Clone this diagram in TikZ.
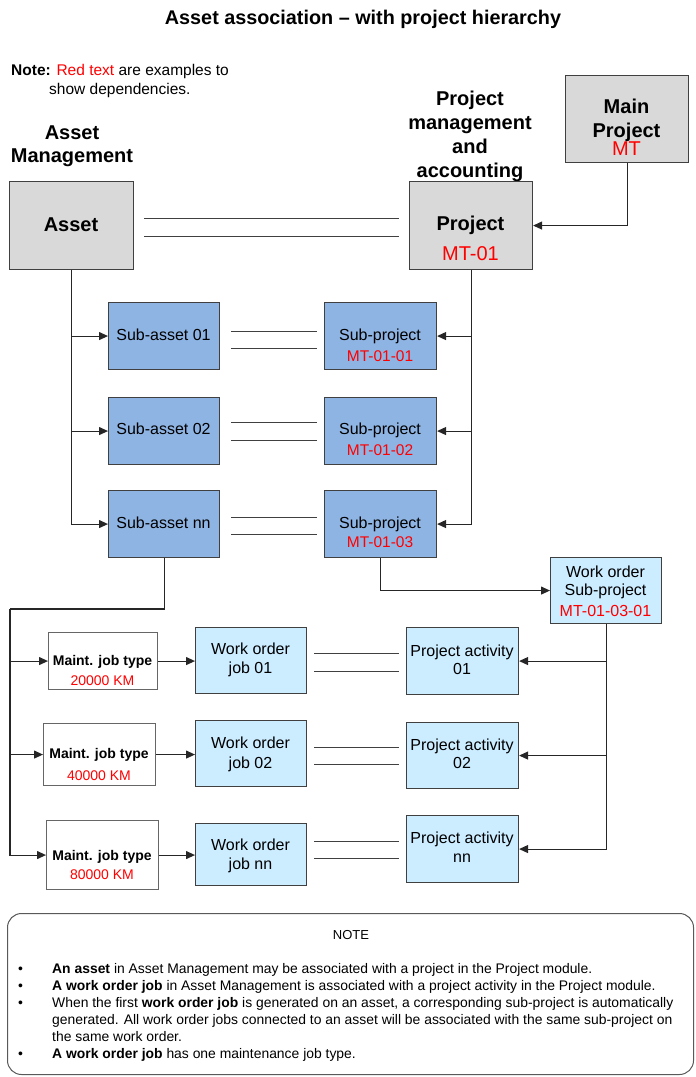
\documentclass[tikz,border=0pt]{standalone}
\usepackage{fontspec}
\setmainfont{Liberation Sans}
\usetikzlibrary{arrows.meta,calc}
\definecolor{boxgray}{HTML}{D9D9D9}
\definecolor{boxblue}{HTML}{8EB4E3}
\definecolor{boxlight}{HTML}{CCECFF}
\definecolor{redtxt}{HTML}{FF0000}
\definecolor{edgec}{HTML}{404040}
\begin{document}
\begin{tikzpicture}[x=1pt,y=-1pt,
  box/.style={draw=edgec,line width=1.1pt,inner sep=0pt,anchor=north west},
  graybox/.style={box,fill=boxgray},
  bluebox/.style={box,fill=boxblue},
  lightbox/.style={box,fill=boxlight},
  whitebox/.style={box,draw=black!60,fill=white},
  txt/.style={inner sep=0pt,anchor=base},
  ftitle/.style={txt,yshift=-7.1pt,font=\fontsize{19.8}{23}\selectfont\bfseries},
  fhead/.style={txt,yshift=-7.2pt,font=\fontsize{20}{24}\selectfont\bfseries},
  fbig/.style={txt,yshift=-7.2pt,font=\fontsize{20}{24}\selectfont},
  fmid/.style={txt,yshift=-5.8pt,font=\fontsize{16}{19}\selectfont},
  fsub/.style={txt,yshift=-5.6pt,font=\fontsize{15.5}{19}\selectfont},
  fsmallb/.style={txt,yshift=-5pt,font=\fontsize{14}{17}\selectfont\bfseries},
  fsmall/.style={txt,yshift=-5pt,font=\fontsize{14}{17}\selectfont},
  fintro/.style={inner sep=0pt,anchor=base west,yshift=-5.6pt,font=\fontsize{15.5}{19}\selectfont},
  fnote/.style={inner sep=0pt,anchor=base west,yshift=-5pt,font=\fontsize{13.9}{17}\selectfont},
  red/.style={text=redtxt},
  conn/.style={draw=black!85,line width=1.1pt,-{Triangle[length=9pt,width=8pt]}},
  plain/.style={draw=black!85,line width=1.1pt},
  assoc/.style={draw=black!75,line width=1.1pt}
]
\useasboundingbox (0,0) rectangle (696,1077);

% title and notes
\node[ftitle] (title) at (363,17) {Asset association – with project hierarchy};
\node[fintro] (note1) at (11,70) {\textbf{Note:} \textcolor{redtxt}{Red text} are examples to};
\node[fintro] (note2) at (49,89) {show dependencies.};

% headings
\node[fhead] (amh1) at (72,132) {Asset};
\node[fhead] (amh2) at (72,155) {Management};
\node[fhead] (pmh1) at (470,98) {Project};
\node[fhead] (pmh2) at (470,122) {management};
\node[fhead] (pmh3) at (470,146) {and};
\node[fhead] (pmh4) at (470,170) {accounting};

% top boxes
\node[graybox,minimum width=124,minimum height=88] (asset) at (9,181) {};
\node[fhead] (assett) at (71,224) {Asset};
\node[graybox,minimum width=123,minimum height=88] (project) at (409,181) {};
\node[fhead] (projectt1) at (470.5,223) {Project};
\node[fbig,red] (projectt2) at (470.5,253) {MT-01};
\node[graybox,minimum width=123,minimum height=87] (main) at (565,75) {};
\node[fhead] (maint1) at (626.5,106) {Main};
\node[fhead] (maint2) at (626.5,130) {Project};
\node[fbig,red] (maint3) at (626.5,148) {MT};

% sub-assets
\node[bluebox,minimum width=111,minimum height=67] (sa1) at (108,302) {};
\node[bluebox,minimum width=111,minimum height=67] (sa2) at (108,397) {};
\node[bluebox,minimum width=111,minimum height=67] (sa3) at (108,490) {};
\node[fmid] (sa1t) at (163.5,335) {Sub-asset 01};
\node[fmid] (sa2t) at (163.5,429) {Sub-asset 02};
\node[fmid] (sa3t) at (163.5,523) {Sub-asset nn};

% sub-projects
\node[bluebox,minimum width=112,minimum height=67] (sp1) at (324,302) {};
\node[bluebox,minimum width=112,minimum height=67] (sp2) at (324,397) {};
\node[bluebox,minimum width=112,minimum height=67] (sp3) at (324,490) {};
\node[fmid] (sp1t1) at (380,335) {Sub-project};
\node[fsub,red] (sp1t2) at (380,356) {MT-01-01};
\node[fmid] (sp2t1) at (380,429) {Sub-project};
\node[fsub,red] (sp2t2) at (380,450) {MT-01-02};
\node[fmid] (sp3t1) at (380,523) {Sub-project};
\node[fsub,red] (sp3t2) at (380,542) {MT-01-03};

% work order sub-project
\node[lightbox,minimum width=111,minimum height=66] (wos) at (550,557) {};
\node[fmid] (wost1) at (605.5,572) {Work order};
\node[fmid] (wost2) at (605.5,590) {Sub-project};
\node[fmid,red] (wost3) at (605.5,611) {MT-01-03-01};

% maintenance job types
\node[whitebox,minimum width=109,minimum height=57] (mj1) at (48,632) {};
\node[whitebox,minimum width=112,minimum height=62] (mj2) at (43,723) {};
\node[whitebox,minimum width=112,minimum height=69] (mj3) at (46,820) {};
\node[fsmallb] (mj1t1) at (102.5,660) {Maint. job type};
\node[fsmall,red] (mj1t2) at (102.5,680) {20000 KM};
\node[fsmallb] (mj2t1) at (99,753) {Maint. job type};
\node[fsmall,red] (mj2t2) at (99,775) {40000 KM};
\node[fsmallb] (mj3t1) at (102,855) {Maint. job type};
\node[fsmall,red] (mj3t2) at (102,874) {80000 KM};

% work order jobs
\node[lightbox,minimum width=111,minimum height=66] (wj1) at (195,627) {};
\node[lightbox,minimum width=111,minimum height=66] (wj2) at (195,720) {};
\node[lightbox,minimum width=111,minimum height=62] (wj3) at (195,823) {};
\node[fmid] (wj1t1) at (250.5,649) {Work order};
\node[fmid] (wj1t2) at (250.5,668) {job 01};
\node[fmid] (wj2t1) at (250.5,743) {Work order};
\node[fmid] (wj2t2) at (250.5,763) {job 02};
\node[fmid] (wj3t1) at (250.5,845) {Work order};
\node[fmid] (wj3t2) at (250.5,864) {job nn};

% project activities
\node[lightbox,minimum width=112,minimum height=67] (pa1) at (406,627) {};
\node[lightbox,minimum width=112,minimum height=66] (pa2) at (406,722) {};
\node[lightbox,minimum width=112,minimum height=67] (pa3) at (406,815) {};
\node[fmid] (pa1t1) at (462,651) {Project activity};
\node[fmid] (pa1t2) at (462,669) {01};
\node[fmid] (pa2t1) at (462,745) {Project activity};
\node[fmid] (pa2t2) at (462,763) {02};
\node[fmid] (pa3t1) at (462,838) {Project activity};
\node[fmid] (pa3t2) at (462,857) {nn};

% association double lines
\draw[assoc] ([xshift=10pt,yshift=7pt]asset.east) -- ([xshift=-10pt,yshift=7pt]project.west);
\draw[assoc] ([xshift=10pt,yshift=-11pt]asset.east) -- ([xshift=-10pt,yshift=-11pt]project.west);
\draw[assoc] ([xshift=11pt,yshift=4.5pt]sa1.east) -- ([xshift=-7pt,yshift=4.5pt]sp1.west);
\draw[assoc] ([xshift=11pt,yshift=-12.5pt]sa1.east) -- ([xshift=-7pt,yshift=-12.5pt]sp1.west);
\draw[assoc] ([xshift=11pt,yshift=8.5pt]sa2.east) -- ([xshift=-7pt,yshift=8.5pt]sp2.west);
\draw[assoc] ([xshift=11pt,yshift=-9.5pt]sa2.east) -- ([xshift=-7pt,yshift=-9.5pt]sp2.west);
\draw[assoc] ([xshift=11pt,yshift=6.5pt]sa3.east) -- ([xshift=-7pt,yshift=6.5pt]sp3.west);
\draw[assoc] ([xshift=11pt,yshift=-10.5pt]sa3.east) -- ([xshift=-7pt,yshift=-10.5pt]sp3.west);
\draw[assoc] ([xshift=7pt,yshift=7pt]wj1.east) -- ([xshift=-7pt,yshift=7.5pt]pa1.west);
\draw[assoc] ([xshift=7pt,yshift=-11pt]wj1.east) -- ([xshift=-7pt,yshift=-10.5pt]pa1.west);
\draw[assoc] ([xshift=7pt,yshift=6pt]wj2.east) -- ([xshift=-7pt,yshift=8pt]pa2.west);
\draw[assoc] ([xshift=7pt,yshift=-11pt]wj2.east) -- ([xshift=-7pt,yshift=-9pt]pa2.west);
\draw[assoc] ([xshift=7pt,yshift=13pt]wj3.east) -- ([xshift=-7pt,yshift=7.5pt]pa3.west);
\draw[assoc] ([xshift=7pt,yshift=-4pt]wj3.east) -- ([xshift=-7pt,yshift=-9.5pt]pa3.west);

% hierarchy connectors
\draw[conn] (main.south) |- (project.east);
\draw[conn] (asset.south) |- (sa1.west);
\draw[conn] (asset.south) |- (sa2.west);
\draw[conn] (asset.south) |- (sa3.west);
\draw[conn] (project.south) |- (sp1.east);
\draw[conn] (project.south) |- (sp2.east);
\draw[conn] (project.south) |- (sp3.east);
\draw[conn] (sp3.south) |- (wos.west);
\coordinate (bus) at (10,609);
\draw[plain] (sa3.south) |- (bus);
\draw[conn] (bus) |- (mj1.west);
\draw[conn] (bus) |- (mj2.west);
\draw[conn] (bus) |- (mj3.west);
\draw[conn] (mj1.east) -- (wj1.west |- mj1.east);
\draw[conn] (mj2.east) -- (wj2.west |- mj2.east);
\draw[conn] (mj3.east) -- (wj3.west |- mj3.east);
\draw[conn] (wos.south) |- (pa1.east);
\draw[conn] (wos.south) |- (pa2.east);
\draw[conn] (wos.south) |- (pa3.east);

% note box
\node[draw=black!65,line width=1pt,rounded corners=14pt,minimum width=686,minimum height=161,inner sep=0pt,anchor=north west] (notebox) at (7,913) {};
\node[txt,yshift=-4.7pt,font=\fontsize{13}{15}\selectfont] (notetitle) at (351,935) {NOTE};
\node[fnote] (b1) at (18,968) {•};
\node[fnote] (b2) at (18,985) {•};
\node[fnote] (b3) at (18,1002) {•};
\node[fnote] (b6) at (18,1053) {•};
\node[fnote] (l1) at (52,968) {\textbf{An asset} in Asset Management may be associated with a project in the Project module.};
\node[fnote] (l2) at (52,985) {\textbf{A work order job} in Asset Management is associated with a project activity in the Project module.};
\node[fnote] (l3) at (52,1002) {When the first \textbf{work order job} is generated on an asset, a corresponding sub-project is automatically};
\node[fnote] (l4) at (52,1019) {generated. All work order jobs connected to an asset will be associated with the same sub-project on};
\node[fnote] (l5) at (52,1036) {the same work order.};
\node[fnote] (l6) at (52,1053) {\textbf{A work order job} has one maintenance job type.};
\end{tikzpicture}
\end{document}
